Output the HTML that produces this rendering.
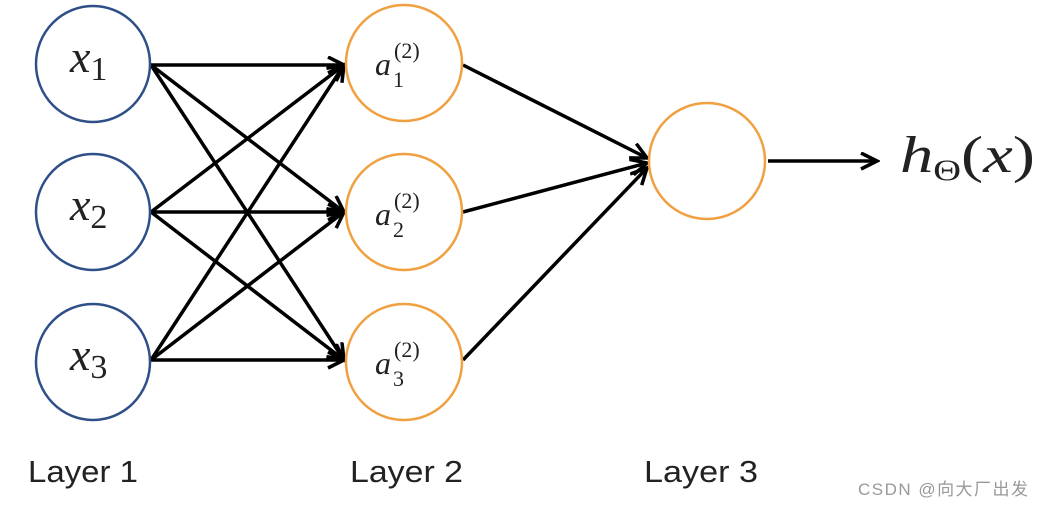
<!DOCTYPE html>
<html><head><meta charset="utf-8"><style>
body{margin:0;background:#fff;width:1044px;height:506px;overflow:hidden}
</style></head><body>
<svg width="1044" height="506" xmlns="http://www.w3.org/2000/svg">
<defs><marker id="a" markerWidth="20" markerHeight="20" refX="17" refY="9" orient="auto" markerUnits="userSpaceOnUse"><path d="M1,1 L17,9 L1,17" fill="none" stroke="#000" stroke-width="3.5"/></marker></defs>
<g stroke="#000" stroke-width="3.5" marker-end="url(#a)">
<line x1="151" y1="65" x2="344" y2="65"/><line x1="151" y1="65" x2="344" y2="212"/><line x1="151" y1="65" x2="344" y2="360"/>
<line x1="151" y1="212" x2="344" y2="65"/><line x1="151" y1="212" x2="344" y2="212"/><line x1="151" y1="212" x2="344" y2="360"/>
<line x1="151" y1="360" x2="344" y2="65"/><line x1="151" y1="360" x2="344" y2="212"/><line x1="151" y1="360" x2="344" y2="360"/>
<line x1="463" y1="65" x2="647" y2="158"/><line x1="463" y1="212" x2="647" y2="163"/><line x1="463" y1="360" x2="647" y2="168"/>
<line x1="768" y1="161" x2="877" y2="161"/>
</g>
<g fill="#fff" stroke="#2f4f88" stroke-width="2.5">
<ellipse cx="93" cy="64" rx="57" ry="58"/><ellipse cx="93" cy="212" rx="57" ry="58"/><ellipse cx="93" cy="362" rx="57" ry="58"/>
</g>
<g fill="#fff" stroke="#f0a040" stroke-width="2.5">
<ellipse cx="404" cy="63" rx="58" ry="58"/><ellipse cx="404" cy="212" rx="58" ry="58"/><ellipse cx="404" cy="362" rx="58" ry="58"/>
<ellipse cx="707" cy="161" rx="58" ry="58"/>
</g>
<g font-family="Liberation Serif, serif" fill="#222">
<text x="70" y="72" font-size="46" font-style="italic">x<tspan font-style="normal" font-size="34" dy="8">1</tspan></text>
<text x="70" y="220" font-size="46" font-style="italic">x<tspan font-style="normal" font-size="34" dy="8">2</tspan></text>
<text x="70" y="370" font-size="46" font-style="italic">x<tspan font-style="normal" font-size="34" dy="8">3</tspan></text>
<g font-size="32"><text x="375" y="75" font-style="italic">a</text><text x="394" y="58" font-size="22">(2)</text><text x="393" y="87" font-size="22">1</text></g>
<g font-size="32"><text x="375" y="225" font-style="italic">a</text><text x="394" y="208" font-size="22">(2)</text><text x="393" y="237" font-size="22">2</text></g>
<g font-size="32"><text x="375" y="374" font-style="italic">a</text><text x="394" y="357" font-size="22">(2)</text><text x="393" y="386" font-size="22">3</text></g>
<text x="900" y="172" font-size="52" font-style="italic" textLength="135" lengthAdjust="spacingAndGlyphs">h<tspan font-style="normal" font-size="30" dy="8">Θ</tspan><tspan font-style="normal" dy="-8">(</tspan>x<tspan font-style="normal">)</tspan></text>
</g>
<g font-family="Liberation Sans, sans-serif" font-size="31" fill="#222">
<text x="28" y="482" textLength="110" lengthAdjust="spacingAndGlyphs">Layer 1</text><text x="350" y="482" textLength="113" lengthAdjust="spacingAndGlyphs">Layer 2</text><text x="644" y="482" textLength="114" lengthAdjust="spacingAndGlyphs">Layer 3</text>
</g>
<text x="858" y="495" font-family="Liberation Sans, Noto Sans CJK SC, sans-serif" font-size="17" fill="#999" textLength="170">CSDN @向大厂出发</text>
</svg>
</body></html>
